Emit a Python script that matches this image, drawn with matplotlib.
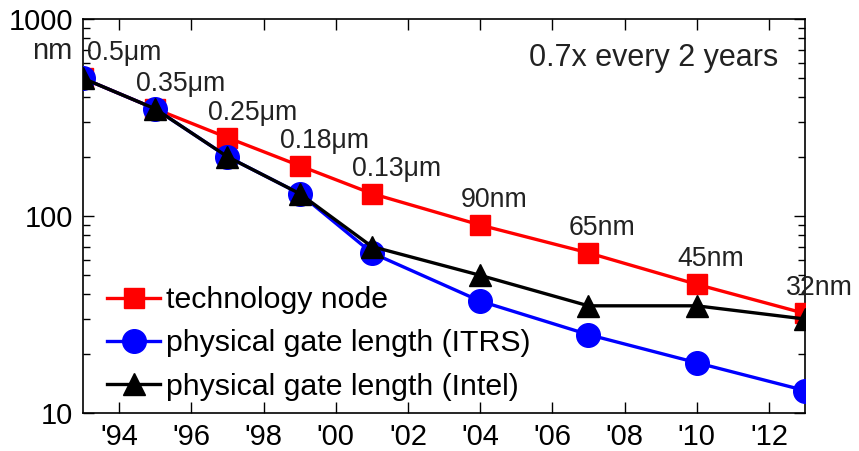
import matplotlib

matplotlib.use("Agg")
import matplotlib.pyplot as plt
from matplotlib.ticker import FixedLocator, LogLocator, NullFormatter

plt.rcParams["font.family"] = ["Liberation Sans", "DejaVu Sans"]

# data
years = [1993, 1995, 1997, 1999, 2001, 2004, 2007, 2010, 2013]
tech_node = [500, 350, 250, 180, 130, 90, 65, 45, 32]
gate_itrs = [500, 350, 200, 130, 65, 37, 25, 18, 13]
gate_intel = [500, 350, 200, 130, 70, 50, 35, 35, 30]
node_labels = ["0.5\u03bcm", "0.35\u03bcm", "0.25\u03bcm", "0.18\u03bcm", "0.13\u03bcm",
               "90nm", "65nm", "45nm", "32nm"]
tick_years = [1994, 1996, 1998, 2000, 2002, 2004, 2006, 2008, 2010, 2012]
tick_labels = ["'94", "'96", "'98", "'00", "'02", "'04", "'06", "'08", "'10", "'12"]

fig = plt.figure(figsize=(8.59, 4.51), dpi=100)
ax = fig.add_axes([83 / 859, 1 - 413 / 451, 722 / 859, 394 / 451])

ax.plot(years, tech_node, "-s", color="#ff0000", lw=2.4, ms=15,
        label="technology node", zorder=3)
ax.plot(years, gate_itrs, "-o", color="#0000ff", lw=2.4, ms=17,
        label="physical gate length (ITRS)", zorder=4)
ax.plot(years, gate_intel, "-^", color="black", lw=2.4, ms=16,
        label="physical gate length (Intel)", zorder=5)

ax.set_yscale("log")
ax.set_xlim(1993, 2013)
ax.set_ylim(10, 1000)

ax.xaxis.set_major_locator(FixedLocator(tick_years))
ax.set_xticklabels(tick_labels)
ax.yaxis.set_major_locator(FixedLocator([10, 100, 1000]))
ax.set_yticklabels(["10", "100", "1000"])
ax.yaxis.set_minor_locator(LogLocator(base=10, subs=range(2, 10)))
ax.yaxis.set_minor_formatter(NullFormatter())

ax.tick_params(which="both", direction="in", top=True, right=True,
               labelsize=21, width=1.0, colors="black", pad=7)
ax.tick_params(which="major", length=8)
ax.tick_params(which="minor", length=5)
for s in ax.spines.values():
    s.set_linewidth(1.2)

# labels above the technology-node squares
for i, (x, y, lab) in enumerate(zip(years, tech_node, node_labels)):
    dx = 3 if i == 0 else -14
    ax.annotate(lab, xy=(x, y), xytext=(dx, 18), textcoords="offset points",
                ha="left", va="center", fontsize=19.2, color="#222222",
                zorder=6, annotation_clip=False)

ax.annotate("nm", xy=(0, 1000), xycoords=("axes fraction", "data"),
            xytext=(-8, -23), textcoords="offset points", ha="right",
            va="center", fontsize=21, color="#222222", annotation_clip=False)

ax.text(0.79, 0.9, "0.7x every 2 years", transform=ax.transAxes,
        ha="center", va="center", fontsize=22, color="#222222")

ax.legend(loc="lower left", bbox_to_anchor=(0.0, -0.03), frameon=False,
          fontsize=21.8, handlelength=1.75, handletextpad=0.2,
          labelspacing=0.5, borderaxespad=0.4)

fig.savefig("out.png", dpi=100)
